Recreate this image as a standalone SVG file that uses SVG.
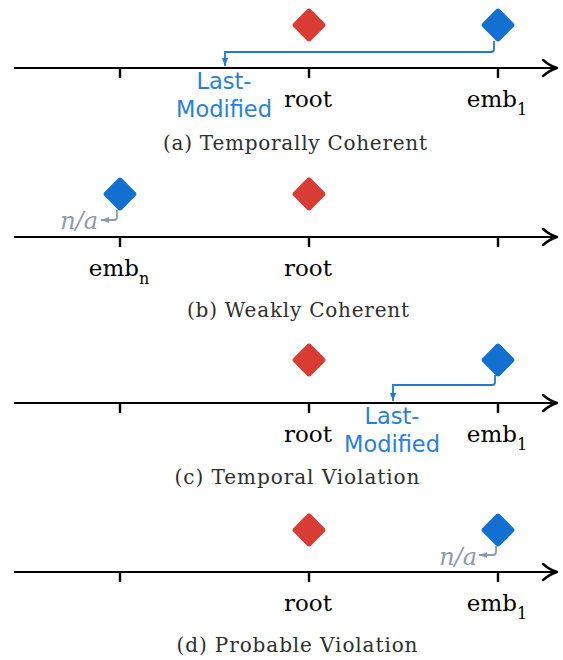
<svg xmlns="http://www.w3.org/2000/svg" xmlns:xlink="http://www.w3.org/1999/xlink" width="563" height="660" viewBox="0 0 563 660">
<style>
.axis{stroke:#000;stroke-width:2.2;fill:none}
.head{stroke:#000;stroke-width:2.4;fill:none;stroke-linecap:round;stroke-linejoin:round}
.tick{stroke:#000;stroke-width:2.4}
.red{fill:#d93c33}
.blue{fill:#1170d0}
.lbl{font-family:"DejaVu Serif","Liberation Serif",serif;font-size:23px;fill:#000;text-anchor:middle}
.sub{font-size:16px}
.cap{font-family:"DejaVu Serif","Liberation Serif",serif;font-size:20px;fill:#2e2e2e;text-anchor:middle}
.lm{font-family:"DejaVu Sans","Noto Sans",sans-serif;font-size:22.5px;fill:#2a80d8;text-anchor:middle}
.na{font-family:"DejaVu Serif","Liberation Serif",serif;font-style:italic;font-size:24px;fill:#8e9aab;text-anchor:end}
.bc{stroke:#1f7ad6;stroke-width:1.8;fill:none}
.gc{stroke:#8e9aab;stroke-width:1.8;fill:none}
</style>
<defs>
<rect id="dia" x="-12.4" y="-12.4" width="24.8" height="24.8" rx="3" transform="rotate(45)"/>
<marker id="ab" viewBox="0 0 8 6" refX="8" refY="3" markerWidth="8" markerHeight="6" markerUnits="userSpaceOnUse" orient="auto"><path d="M0,0 L8,3 L0,6 z" fill="#1f7ad6"/></marker>
<marker id="ag" viewBox="0 0 8 6" refX="8" refY="3" markerWidth="8" markerHeight="6" markerUnits="userSpaceOnUse" orient="auto"><path d="M0,0 L8,3 L0,6 z" fill="#8e9aab"/></marker>
</defs>

<!-- Panel (a) -->
<g id="axis-a">
<line class="axis" x1="14" y1="68" x2="556" y2="68"/>
<path class="head" d="M543,60 Q550,66 557,68 Q550,70 543,76"/>
<line class="tick" x1="120" y1="68" x2="120" y2="78"/>
<line class="tick" x1="309" y1="68" x2="309" y2="78"/>
<line class="tick" x1="498" y1="68" x2="498" y2="78"/>
<text class="lbl" x="308" y="107">root</text>
<text class="lbl" x="497" y="107">emb<tspan class="sub" dy="8">1</tspan></text>
<text class="cap" x="295" y="150" textLength="264" lengthAdjust="spacing">(a) Temporally Coherent</text>
</g>
<g id="root-a"><use xlink:href="#dia" x="309" y="25" class="red"/></g>
<g id="emb1-a"><use xlink:href="#dia" x="498" y="25" class="blue"/></g>
<g id="lastmod-a">
<text class="lm" x="224" y="89">Last-</text>
<text class="lm" x="224" y="117">Modified</text>
</g>

<!-- Panel (b) -->
<g id="axis-b">
<line class="axis" x1="14" y1="237" x2="556" y2="237"/>
<path class="head" d="M543,229 Q550,235 557,237 Q550,239 543,245"/>
<line class="tick" x1="120" y1="237" x2="120" y2="247"/>
<line class="tick" x1="309" y1="237" x2="309" y2="247"/>
<line class="tick" x1="498" y1="237" x2="498" y2="247"/>
<text class="lbl" x="119" y="276">emb<tspan class="sub" dy="8">n</tspan></text>
<text class="lbl" x="308" y="276">root</text>
<text class="cap" x="298" y="317" textLength="222" lengthAdjust="spacing">(b) Weakly Coherent</text>
</g>
<g id="embn-b"><use xlink:href="#dia" x="120" y="194" class="blue"/></g>
<g id="root-b"><use xlink:href="#dia" x="309" y="194" class="red"/></g>
<g id="na-b"><text class="na" x="98" y="229">n/a</text></g>

<!-- Panel (c) -->
<g id="axis-c">
<line class="axis" x1="14" y1="403" x2="556" y2="403"/>
<path class="head" d="M543,395 Q550,401 557,403 Q550,405 543,411"/>
<line class="tick" x1="120" y1="403" x2="120" y2="413"/>
<line class="tick" x1="309" y1="403" x2="309" y2="413"/>
<line class="tick" x1="498" y1="403" x2="498" y2="413"/>
<text class="lbl" x="308" y="442">root</text>
<text class="lbl" x="497" y="442">emb<tspan class="sub" dy="8">1</tspan></text>
<text class="cap" x="297" y="484" textLength="245" lengthAdjust="spacing">(c) Temporal Violation</text>
</g>
<g id="root-c"><use xlink:href="#dia" x="309" y="360" class="red"/></g>
<g id="emb1-c"><use xlink:href="#dia" x="498" y="360" class="blue"/></g>
<g id="lastmod-c">
<text class="lm" x="392" y="424">Last-</text>
<text class="lm" x="392" y="452">Modified</text>
</g>

<!-- Panel (d) -->
<g id="axis-d">
<line class="axis" x1="14" y1="572" x2="556" y2="572"/>
<path class="head" d="M543,564 Q550,570 557,572 Q550,574 543,580"/>
<line class="tick" x1="120" y1="572" x2="120" y2="582"/>
<line class="tick" x1="309" y1="572" x2="309" y2="582"/>
<line class="tick" x1="498" y1="572" x2="498" y2="582"/>
<text class="lbl" x="308" y="611">root</text>
<text class="lbl" x="497" y="611">emb<tspan class="sub" dy="8">1</tspan></text>
<text class="cap" x="297" y="652" textLength="241" lengthAdjust="spacing">(d) Probable Violation</text>
</g>
<g id="root-d"><use xlink:href="#dia" x="309" y="530" class="red"/></g>
<g id="emb1-d"><use xlink:href="#dia" x="498" y="530" class="blue"/></g>
<g id="na-d"><text class="na" x="477" y="565">n/a</text></g>

<g id="connectors">
<path class="bc" d="M494,41 V49 Q494,52 491,52 H225 V66" marker-end="url(#ab)"/>
<path class="bc" d="M495,375 V382 Q495,385 492,385 H393 V401" marker-end="url(#ab)"/>
<path class="gc" d="M117,210 V217 Q117,220 114,220 H101" marker-end="url(#ag)"/>
<path class="gc" d="M496,546 V552 Q496,555 493,555 H479" marker-end="url(#ag)"/>
</g>
</svg>
